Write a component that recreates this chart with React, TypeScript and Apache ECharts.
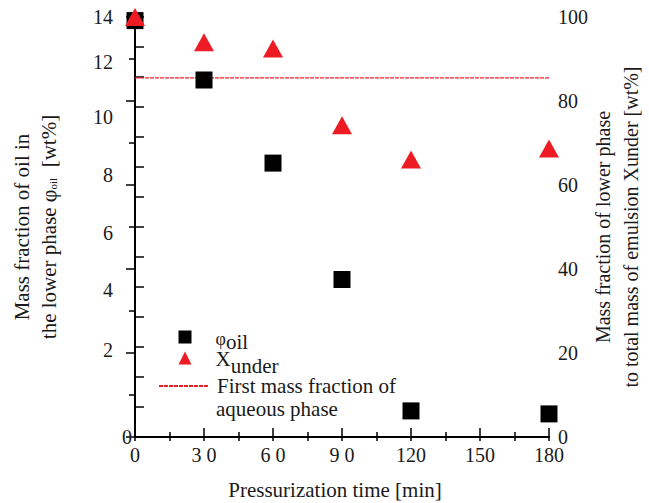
import React, { useEffect, useRef } from "react";
import * as echarts from "echarts";

const times = [0, 30, 60, 90, 120, 180];
const phiOil = [13.88, 11.9, 9.13, 5.25, 0.87, 0.77];
const xUnder = [100, 94.0, 92.5, 74.2, 66.1, 68.7];
const firstMassFraction = 85.5;
const xTickLabels = ["0", "3 0", "6 0", "9 0", "120", "150", "180"];
const leftLabelShift: Record<number, number> = { 0: 0, 2: 54, 4: 54, 6: 48, 8: 44, 10: 40, 12: 30, 14: 0 };
const lineLegendName = "First mass fraction of aqueous phase";
const lineLegendLines = ["First mass fraction of", "aqueous phase"];

const FONT = "Liberation Serif";
const TXT = "#1a1a1a";
const RED = "#ed1c24";

export default function App() {
  const ref = useRef<HTMLDivElement>(null);
  useEffect(() => {
    if (!ref.current) return;
    const chart = echarts.init(ref.current, null, { renderer: "svg" });
    const leftRich: Record<string, any> = {};
    Object.keys(leftLabelShift).forEach((k) => {
      const v = Number(k);
      leftRich["v" + v] = {
        fontFamily: FONT,
        fontSize: 20,
        color: TXT,
        padding: [0, v === 0 ? 0 : 19, leftLabelShift[v], 0],
      };
    });
    const axisLine = { show: true, lineStyle: { color: "#000", width: 2 } };
    chart.setOption({
      animation: false,
      textStyle: { fontFamily: FONT },
      grid: { left: 135, right: 100, top: 17, bottom: 66, containLabel: false, outerBoundsMode: "none" },
      legend: [
        {
          orient: "vertical",
          left: 173.5,
          top: 325,
          itemWidth: 13,
          itemHeight: 13,
          itemGap: -4,
          data: ["φoil", "Xunder"],
          formatter: (name: string) =>
            name === "φoil" ? "{p|φ}{o|oil}" : "{x|X}{u|under}",
          textStyle: {
            fontFamily: FONT,
            fontSize: 21,
            color: TXT,
            padding: [8, 0, 0, 19],
            rich: {
              p: { fontFamily: FONT, fontSize: 18, color: TXT, lineHeight: 22, verticalAlign: "top" },
              o: { fontFamily: FONT, fontSize: 21, color: TXT, lineHeight: 22, verticalAlign: "bottom" },
              x: { fontFamily: FONT, fontSize: 21, color: TXT, lineHeight: 28, verticalAlign: "top" },
              u: { fontFamily: FONT, fontSize: 21, color: TXT, lineHeight: 28, verticalAlign: "bottom" },
            },
          },
        },
        {
          orient: "vertical",
          left: 153,
          top: 370,
          itemWidth: 49,
          itemHeight: 13,
          data: [{ name: lineLegendName, itemStyle: { color: "rgba(0,0,0,0)", borderWidth: 0, opacity: 0 } }],
          formatter: () => lineLegendLines[0],
          textStyle: {
            fontFamily: FONT,
            fontSize: 21,
            color: TXT,
            lineHeight: 22,
            padding: [0, 0, 0, 4],
          },
        },
      ],
      graphic: [
        {
          type: "text",
          x: 216,
          y: 409,
          style: {
            text: lineLegendLines[1],
            font: `21px "${FONT}"`,
            fill: TXT,
            verticalAlign: "middle",
          },
        },
      ],
      xAxis: [
        {
          type: "value",
          min: 0,
          max: 180,
          interval: 30,
          position: "bottom",
          name: "Pressurization time [min]",
          nameLocation: "middle",
          nameGap: 42,
          nameTextStyle: { fontFamily: FONT, fontSize: 21, color: TXT, padding: [0, 14, 0, 0] },
          axisLine,
          axisTick: { show: true, inside: true, length: 9, lineStyle: { color: "#000", width: 1.5 } },
          minorTick: { show: true, splitNumber: 2, length: 5, lineStyle: { color: "#000", width: 1.5 } },
          splitLine: { show: false },
          axisLabel: {
            fontFamily: FONT,
            fontSize: 20,
            color: TXT,
            margin: 8,
            formatter: (v: number) => xTickLabels[Math.round(v / 30)] ?? "",
          },
        },
        {
          type: "value",
          min: 0,
          max: 180,
          interval: 15,
          position: "top",
          axisLine,
          axisTick: { show: true, inside: true, length: 4, lineStyle: { color: "#000", width: 1.5 } },
          splitLine: { show: false },
          axisLabel: { show: false },
        },
      ],
      yAxis: [
        {
          type: "value",
          min: 0,
          max: 14,
          interval: 1,
          position: "left",
          name: "{t|Mass fraction of oil in}\n{t|the lower phase }{p|φ}{s|oil}{t|  [wt%]}",
          nameLocation: "middle",
          nameRotate: 90,
          nameGap: 73,
          nameTextStyle: {
            fontFamily: FONT,
            fontSize: 21,
            color: TXT,
            rich: {
              t: { fontFamily: FONT, fontSize: 21, color: TXT, lineHeight: 27 },
              p: { fontFamily: FONT, fontSize: 22, color: TXT, lineHeight: 27 },
              s: { fontFamily: FONT, fontSize: 11, color: TXT, lineHeight: 27, padding: [8, 0, 0, 0] },
            },
          },
          axisLine,
          axisTick: { show: true, inside: true, length: 9, lineStyle: { color: "#000", width: 1.5 } },
          splitLine: { show: false },
          axisLabel: {
            margin: 3,
            formatter: (v: number) => {
              const r = Math.round(v);
              if (r % 2 !== 0) return "";
              return `{v${r}|${r}}`;
            },
            rich: leftRich,
          },
        },
        {
          type: "value",
          min: 0,
          max: 100,
          interval: 20,
          position: "right",
          name: "Mass fraction of lower phase\nto total mass of emulsion Xunder [wt%]",
          nameLocation: "middle",
          nameRotate: 90,
          nameGap: 40,
          nameMoveOverlap: false,
          nameTextStyle: { fontFamily: FONT, fontSize: 20, color: TXT, lineHeight: 28 },
          axisLine,
          axisTick: { show: true, inside: true, length: 9, lineStyle: { color: "#000", width: 1.5 } },
          minorTick: { show: true, splitNumber: 2, length: 6, lineStyle: { color: "#000", width: 1.5 } },
          splitLine: { show: false },
          axisLabel: { fontFamily: FONT, fontSize: 20, color: TXT, margin: 9 },
        },
      ],
      series: [
        {
          name: lineLegendName,
          type: "line",
          xAxisIndex: 0,
          yAxisIndex: 1,
          symbol: "none",
          data: [
            [times[0], firstMassFraction],
            [times[times.length - 1], firstMassFraction],
          ],
          lineStyle: { color: RED, width: 1.4, type: [4, 1] },
          itemStyle: { color: RED },
          z: 1,
        },
        {
          name: "φoil",
          type: "scatter",
          xAxisIndex: 0,
          yAxisIndex: 0,
          symbol: "rect",
          symbolSize: 17,
          itemStyle: { color: "#000", opacity: 1 },
          data: times.map((t, i) => [t, phiOil[i]]),
          z: 2,
        },
        {
          name: "Xunder",
          type: "scatter",
          xAxisIndex: 0,
          yAxisIndex: 1,
          symbol: "triangle",
          symbolSize: [20, 18],
          itemStyle: { color: RED, opacity: 1 },
          data: times.map((t, i) => [t, xUnder[i]]),
          z: 3,
        },
      ],
    });
    return () => chart.dispose();
  }, []);
  return <div ref={ref} style={{ width: 649, height: 503, position: "absolute", left: 0, top: 0, background: "#fff" }} />;
}
